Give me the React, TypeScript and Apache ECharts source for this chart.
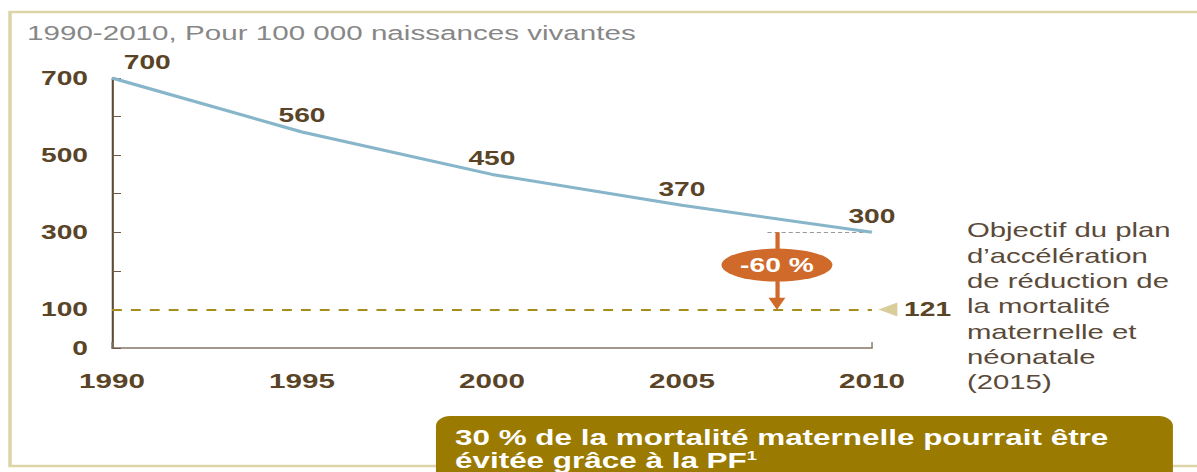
import React, { useEffect, useRef } from "react";
import * as echarts from "echarts";

// ---- data ----
const years = [1990, 1995, 2000, 2005, 2010];
const mortality = [700, 560, 450, 370, 300];
const yLabelsShown = [0, 100, 300, 500, 700];
const targetLevel = 100;
const targetLabel = "121";
const reductionLabel = "-60 %";
const reductionX = 2007.5;
const reductionFrom = 300;
const reductionArrowEnd = 115;
const reductionBadgeLevel = 215;
const guideStartX = 2007.25;
const titleText = "1990-2010, Pour 100 000 naissances vivantes";
const noteLines = [
  "Objectif du plan",
  "d\u2019accélération",
  "de réduction de",
  "la mortalité",
  "maternelle et",
  "néonatale",
  "(2015)",
];
const boxLine1 = "30 % de la mortalité maternelle pourrait être";
const boxLine2 = "évitée grâce à la PF";
const boxSup = "1";

const FULL_W = 1197;
const H = 472;
const SX = 1.41;
const W = Math.round(FULL_W / SX);
const FONT = "'Liberation Sans', Arial, sans-serif";
const BROWN = "#5a4428";

export default function App() {
  const ref = useRef<HTMLDivElement>(null);
  useEffect(() => {
    const chart = echarts.init(ref.current!, null, { renderer: "svg" });
    const option: any = {
      animation: false,
      textStyle: { fontFamily: FONT },
      grid: { left: 112 / SX, right: W - 872 / SX, top: 78, bottom: H - 348 },
      xAxis: [
        {
          type: "value",
          min: 1990,
          max: 2010,
          interval: 5,
          axisLine: { lineStyle: { color: "#857565", width: 1.5 } },
          axisTick: { show: false },
          splitLine: { show: false },
          axisLabel: {
            color: BROWN,
            fontWeight: "bold",
            fontSize: 21,
            fontFamily: FONT,
            margin: 22,
            formatter: (v: number) => String(v),
          },
        },
        {
          type: "value",
          min: 1990,
          max: 2010,
          interval: 20,
          position: "bottom",
          axisLine: { show: false },
          axisLabel: { show: false },
          splitLine: { show: false },
          axisTick: { inside: true, length: 6, lineStyle: { color: "#857565" } },
        },
      ],
      yAxis: {
        type: "value",
        min: 0,
        max: 700,
        interval: 100,
        splitLine: { show: false },
        axisLine: { show: true, lineStyle: { color: "#5e4b35", width: 1.5 } },
        axisTick: { show: true, inside: true, length: 6.4, lineStyle: { color: "#6b5a48" } },
        axisLabel: {
          color: BROWN,
          fontWeight: "bold",
          fontSize: 20,
          fontFamily: FONT,
          margin: 17,
          formatter: (v: number) => (yLabelsShown.includes(v) ? String(v) : ""),
        },
      },
      series: [
        {
          type: "line",
          data: years.map((y, i) => ({
            value: [y, mortality[i]],
            label: i === 0 ? { offset: [25, 1] } : {},
          })),
          showSymbol: true,
          symbol: "circle",
          symbolSize: 1,
          itemStyle: { color: "rgba(0,0,0,0)" },
          lineStyle: { color: "#87b5ca", width: 3 },
          label: {
            show: true,
            position: "top",
            distance: 6,
            color: BROWN,
            fontWeight: "bold",
            fontSize: 20,
            fontFamily: FONT,
            formatter: (p: any) => String(p.value[1]),
          },
          z: 5,
        },
        {
          type: "line",
          data: [],
          silent: true,
          markLine: {
            silent: true,
            symbol: ["none", "none"],
            label: { show: false },
            lineStyle: { color: "#a68d1c", width: 2, type: [7, 6.4] },
            data: [[{ coord: [1990, targetLevel] }, { coord: [2010, targetLevel] }]],
          },
          markPoint: {
            silent: true,
            data: [
              {
                coord: [2010, targetLevel],
                symbol: "triangle",
                symbolSize: [14, 13.5],
                symbolRotate: 90,
                symbolOffset: [11.3, 0],
                itemStyle: { color: "#d9cd9c" },
                label: { show: false },
              },
              {
                coord: [2010, targetLevel],
                symbol: "circle",
                symbolSize: 1,
                itemStyle: { color: "rgba(0,0,0,0)" },
                label: {
                  show: true,
                  position: "inside",
                  offset: [39.5, 0],
                  formatter: targetLabel,
                  color: BROWN,
                  fontWeight: "bold",
                  fontSize: 20,
                  fontFamily: FONT,
                },
              },
            ],
          },
        },
        {
          type: "line",
          data: [],
          silent: true,
          markLine: {
            silent: true,
            symbol: ["none", "none"],
            label: { show: false },
            lineStyle: { color: "#9a9a9a", width: 1, type: [3, 2] },
            data: [[{ coord: [guideStartX, reductionFrom] }, { coord: [2010, reductionFrom] }]],
          },
        },
        {
          type: "line",
          data: [],
          silent: true,
          z: 6,
          markLine: {
            silent: true,
            symbol: ["none", "triangle"],
            symbolSize: [12, 12],
            label: { show: false },
            lineStyle: { color: "#cf6a2b", width: 3, type: "solid" },
            data: [[{ coord: [reductionX, reductionFrom] }, { coord: [reductionX, reductionArrowEnd] }]],
          },
          markPoint: {
            silent: true,
            data: [
              {
                coord: [reductionX, reductionBadgeLevel],
                symbol: "circle",
                symbolSize: [78.7, 33],
                itemStyle: { color: "#cf6a2b" },
                label: {
                  show: true,
                  position: "inside",
                  formatter: reductionLabel,
                  color: "#ffffff",
                  fontWeight: "bold",
                  fontSize: 20,
                  fontFamily: FONT,
                },
              },
            ],
          },
        },
      ],
      graphic: [
        {
          type: "rect",
          shape: { x: 10 / SX, y: 12, width: W + 20, height: 454 },
          style: { fill: "none", stroke: "#ddd4a8", lineWidth: 2.5 },
          z: 0,
          silent: true,
        },
        {
          type: "text",
          x: 27 / SX,
          y: 33,
          style: {
            text: titleText,
            fill: "#878787",
            font: `21px ${FONT}`,
            textVerticalAlign: "middle",
          },
        },
        {
          type: "text",
          x: 967 / SX,
          y: 217.4,
          style: {
            text: noteLines.join("\n"),
            fill: "#5a4a3a",
            font: `20.8px ${FONT}`,
            lineHeight: 25.3,
            textVerticalAlign: "top",
          },
        },
        {
          type: "rect",
          shape: { x: 436 / SX, y: 416, width: (1173 - 436) / SX, height: 90, r: 10 },
          style: { fill: "#9a7a00" },
          z: 10,
        },
        {
          type: "text",
          x: 455 / SX,
          y: 437,
          z: 11,
          style: {
            text: boxLine1,
            fill: "#ffffff",
            font: `bold 22.3px ${FONT}`,
            textVerticalAlign: "middle",
          },
        },
        {
          type: "text",
          x: 455 / SX,
          y: 460,
          z: 11,
          style: {
            text: `{m|${boxLine2}}{s|${boxSup}}`,
            textVerticalAlign: "middle",
            rich: {
              m: { fill: "#ffffff", color: "#ffffff", fontSize: 22.3, fontWeight: "bold", fontFamily: FONT },
              s: { fill: "#ffffff", color: "#ffffff", fontSize: 13, fontWeight: "bold", fontFamily: FONT, verticalAlign: "top", padding: [0, 0, 8, 0] },
            },
          },
        },
      ],
    };
    chart.setOption(option);
    return () => chart.dispose();
  }, []);
  return (
    <div
      ref={ref}
      style={{
        position: "absolute",
        left: 0,
        top: 0,
        width: W,
        height: H,
        transform: `scaleX(${FULL_W / W})`,
        transformOrigin: "0 0",
      }}
    />
  );
}
